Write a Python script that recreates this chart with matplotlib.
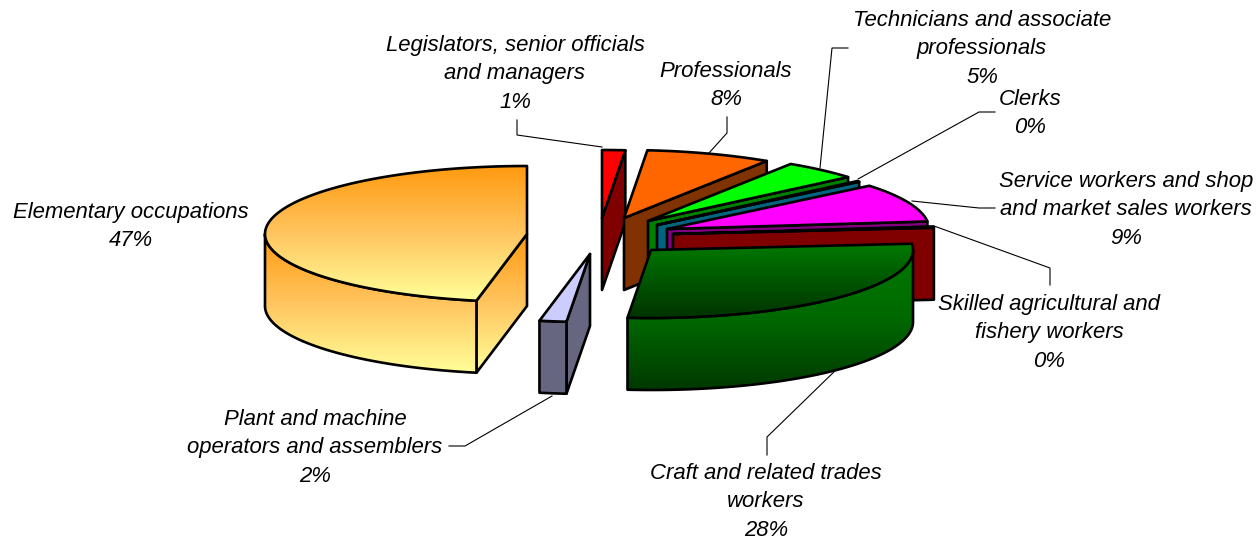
import numpy as np
import matplotlib
matplotlib.use("Agg")
import matplotlib.pyplot as plt
from matplotlib.patches import Polygon
from matplotlib.colors import LinearSegmentedColormap

# ---- data (clockwise from 12 o'clock) ----
labels = [
    "Legislators, senior officials\nand managers",
    "Professionals",
    "Technicians and associate\nprofessionals",
    "Clerks",
    "Service workers and shop\nand market sales workers",
    "Skilled agricultural and\nfishery workers",
    "Craft and related trades\nworkers",
    "Plant and machine\noperators and assemblers",
    "Elementary occupations",
]
values = [1.42, 7.75, 4.66, 0.2, 9.2, 0.3, 27.9, 1.66, 46.91]

# ---- styling / layout ----
plt.rcParams["font.family"] = ["Liberation Sans", "DejaVu Sans"]
RX, RY, DEPTH = 262, 68, 72
LW = 1.9
FONT = 15.9

# exploded centre of each slice, in canvas pixels
centres = [(602, 218), (624, 218), (648, 221), (657, 225), (667, 229),
           (673, 234), (651, 250), (590, 254), (527, 234)]
amber = ("#FF9A10", "#FFC560", "#FFFF99")
tops = ["#FF0000", "#FF6600", "#00FF00", "#0099CC", "#FF00FF", "#FF0000",
        ("#007A00", "#003300"), "#CCCCFF", amber]
sides = ["#800000", "#803300", "#008000", "#006680", "#800080", "#800000",
         ("#007A00", "#006800", "#003800"), "#666680", amber]
draw_order = [8, 0, 1, 2, 3, 4, 5, 7, 6]

text_pos = [(515, 44), (726, 70), (982, 19), (1030, 98), (1126, 180),
            (1049, 303), (766, 472), (315, 418), (131, 211)]
leaders = [
    [(517, 120), (517, 135), (602, 147)],
    [(727, 117), (727, 133), (709, 153)],
    [(848, 48), (832, 48), (820, 168)],
    [(995, 112), (979, 112), (858, 179)],
    [(995, 208), (979, 208), (912, 201)],
    [(1050, 285), (1050, 268), (934, 226)],
    [(767, 455), (767, 437), (838, 368)],
    [(449, 446), (465, 446), (552, 396)],
]

fig = plt.figure(figsize=(12.6, 5.41), dpi=100)
ax = fig.add_axes([0, 0, 1, 1])
ax.axis("off")

z = [1]


def paint(pts, colour):
    """Draw a face; a tuple colour is a vertical gradient across the face."""
    pts = np.asarray(pts)
    z[0] += 1
    if isinstance(colour, tuple):
        cmap = LinearSegmentedColormap.from_list("g", colour)
        y0, y1 = pts[:, 1].min(), pts[:, 1].max()
        x0, x1 = pts[:, 0].min(), pts[:, 0].max()
        im = ax.imshow(np.linspace(0, 1, 256)[:, None], cmap=cmap, aspect="auto",
                       extent=(x0, x1, y1, y0), zorder=z[0], interpolation="bilinear")
        clip = Polygon(pts, closed=True, transform=ax.transData, fc="none", ec="none")
        ax.add_patch(clip)
        im.set_clip_path(clip)
        fc = "none"
    else:
        fc = colour
    z[0] += 1
    ax.add_patch(Polygon(pts, closed=True, fc=fc, ec="black", lw=LW,
                         joinstyle="round", zorder=z[0]))


def rim(c, t):
    t = np.asarray(t)
    return np.column_stack((c[0] + RX * np.sin(t), c[1] - RY * np.cos(t)))


edges = np.radians(np.concatenate(([0], np.cumsum(values))) * 3.6)
for i in draw_order:
    c = centres[i]
    t1, t2 = edges[i], edges[i + 1]
    below = np.array([0, DEPTH])
    # radial cut faces that face the viewer
    if np.pi < t1 < 2 * np.pi:
        p = rim(c, [t1])[0]
        paint([c, p, p + below, np.array(c) + below], sides[i])
    if t2 < np.pi:
        p = rim(c, [t2])[0]
        paint([c, p, p + below, np.array(c) + below], sides[i])
    # outer wall, front half only
    a, b = max(t1, np.pi / 2), min(t2, 3 * np.pi / 2)
    if b > a:
        arc = rim(c, np.linspace(a, b, 160))
        paint(np.vstack((arc, arc[::-1] + below)), sides[i])
    # top face
    arc = rim(c, np.linspace(t1, t2, 240))
    paint(np.vstack(([c], arc)), tops[i])

for line in leaders:
    xs, ys = zip(*line)
    ax.plot(xs, ys, color="black", lw=0.8, zorder=1, solid_joinstyle="miter")

for lab, v, (x, y) in zip(labels, values, text_pos):
    ax.text(x, y - 9, f"{lab}\n{v:.0f}%", ha="center", va="top",
            fontsize=FONT, fontstyle="italic", linespacing=1.46,
            color="black", zorder=z[0] + 1)

ax.set_xlim(0, 1260)
ax.set_ylim(541, 0)
fig.savefig("out.png", dpi=100, facecolor="white")
